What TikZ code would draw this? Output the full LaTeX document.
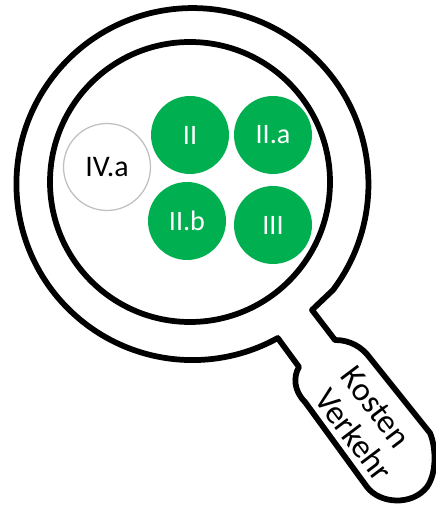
\documentclass[tikz,border=0pt]{standalone}
\usepackage{fontspec}
\setmainfont{Carlito}
\usepackage{xcolor}
\usetikzlibrary{positioning}
\definecolor{kreisgruen}{HTML}{00B050}
\definecolor{kreisgrau}{HTML}{BFBFBF}
\begin{document}
\begin{tikzpicture}[scale=0.02, line join=round]
\tikzstyle{lupe} = [line width=.115cm, black]
\tikzstyle{every node} = [circle, fill=kreisgruen, text=white, minimum size=1.56cm, inner sep=0cm, font=\fontsize{16}{16}\selectfont]
\useasboundingbox (0,0) rectangle (436,505);
\node (two) at (190,370) {II};
\node (twoa) at (273,370) {II.a};
\node (twob) at (187,284) {II.b};
\node (three) at (273,280) {III};
\node[fill=white, draw=kreisgrau, line width=.025cm, text=black, minimum size=1.74cm, font=\fontsize{17}{17}\selectfont] (fouronea) at (107,338) {IV.a};
\draw[lupe] (190,323) circle (140);
\draw[lupe] (333,215) arc (-37:299:176) -- (299,138)
	.. controls (293,128) and (294,114) .. (305,103)
	-- (367,18) .. controls (380,1) and (412,-1) .. (427,18)
	.. controls (437,32) and (436,58) .. (430,72)
	-- (370,147) .. controls (362,158) and (350,165) .. (335,165)
	-- (312,195) -- cycle;
\tikzstyle{every node} = [text=black, inner sep=0cm, font=\fontsize{19}{19}\selectfont]
\node[rotate=-53] (kosten) at (376,98) {Kosten};
\node[rotate=-53] (verkehr) at (354,70) {Verkehr};
\end{tikzpicture}
\end{document}
